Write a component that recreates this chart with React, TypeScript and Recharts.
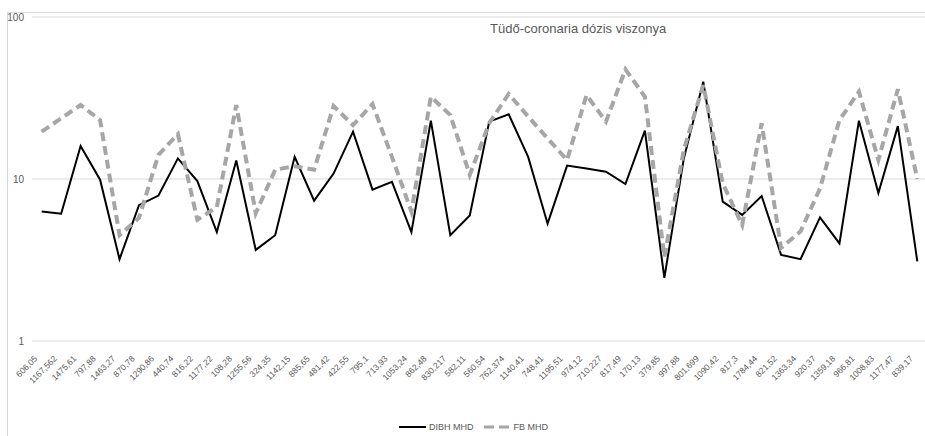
import React from 'react';
import { LineChart, Line, XAxis, YAxis, CartesianGrid } from 'recharts';

const labels = [
  '606,05', '1167,562', '1475,61', '797,88', '1463,27', '870,78', '1290,86', '440,74', '816,22', '1177,22',
  '108,28', '1255,56', '324,35', '1142,15', '885,65', '481,42', '422,55', '795,1', '713,93', '1053,24',
  '862,48', '830,217', '582,11', '560,54', '762,374', '1140,41', '748,41', '1195,51', '974,12', '710,227',
  '817,49', '170,13', '379,85', '997,88', '801,699', '1090,42', '817,3', '1784,44', '821,52', '1363,34',
  '920,37', '1359,18', '966,81', '1008,83', '1177,47', '839,17',
];

const dibhMhd = [
  6.3, 6.1, 16.0, 9.9, 3.2, 6.9, 7.9, 13.4, 9.7, 4.7,
  13.0, 3.65, 4.5, 13.7, 7.35, 10.8, 19.6, 8.6, 9.6, 4.7,
  22.9, 4.5, 5.95, 22.6, 25.1, 13.7, 5.3, 12.1, 11.6, 11.1,
  9.3, 19.9, 2.45, 13.4, 39.9, 7.25, 6.0, 7.85, 3.4, 3.2,
  5.8, 4.0, 22.9, 8.2, 21.2, 3.1,
];

const fbMhd = [
  19.6, 23.7, 28.6, 23.1, 4.5, 5.75, 14.1, 18.9, 5.6, 6.7,
  28.6, 6.15, 11.4, 12.0, 11.4, 28.2, 21.5, 29.0, 13.7, 6.3,
  32.2, 24.8, 10.6, 22.1, 33.5, 24.3, 17.8, 13.1, 33.0, 22.6,
  47.5, 32.2, 3.3, 15.1, 38.0, 9.4, 5.2, 22.1, 3.75, 4.75,
  8.75, 23.1, 34.6, 13.1, 35.8, 10.0,
];

const yTicks = [1, 10, 100];

const chartData = labels.map((name, i) => ({ name, dibh: dibhMhd[i], fb: fbMhd[i] }));

const FONT = '"Liberation Sans", Arial, sans-serif';
const TEXT = '#595959';

const App: React.FC = () => {
  return (
    <div style={{ position: 'fixed', left: 0, top: 0, width: 925, height: 436, overflow: 'hidden', background: '#fff' }}>
      <div style={{ position: 'absolute', left: 7, top: 12, width: 960, height: 460, border: '1px solid #d9d9d9' }} />
      <div style={{ position: 'absolute', left: 490, top: 21, fontFamily: FONT, fontSize: 13, color: TEXT, whiteSpace: 'nowrap' }}>
        Tüdő-coronaria dózis viszonya
      </div>
      <div style={{ position: 'absolute', left: 0, top: 0 }}>
        <LineChart width={940} height={436} data={chartData} margin={{ top: 17, right: 13, bottom: 35, left: 0 }}>
          <CartesianGrid horizontal vertical={false} stroke="#d9d9d9" />
          <XAxis
            dataKey="name"
            scale="point"
            padding={{ left: 9.7, right: 9.7 }}
            interval={0}
            height={60}
            axisLine={false}
            tickLine={false}
            tick={{ fontSize: 8.5, fill: TEXT, fontFamily: FONT, angle: -45, textAnchor: 'end', dx: -8, dy: 6 }}
          />
          <YAxis
            scale="log"
            domain={[1, 100]}
            ticks={yTicks}
            allowDataOverflow
            width={32}
            axisLine={false}
            tickLine={false}
            tick={{ fontSize: 10, fill: TEXT, fontFamily: FONT }}
          />
          <Line type="linear" dataKey="dibh" stroke="#000" strokeWidth={2} dot={false} isAnimationActive={false} />
          <Line type="linear" dataKey="fb" stroke="#a6a6a6" strokeWidth={4} strokeDasharray="9 5" dot={false} isAnimationActive={false} />
        </LineChart>
      </div>
      <div style={{ position: 'absolute', left: 399, top: 421, display: 'flex', alignItems: 'center', fontFamily: FONT, fontSize: 9, color: TEXT, whiteSpace: 'nowrap' }}>
        <svg width={28} height={12} style={{ marginRight: 2 }}>
          <line x1={0} y1={6} x2={27} y2={6} stroke="#000" strokeWidth={2} />
        </svg>
        <span>DIBH MHD</span>
        <svg width={26} height={12} style={{ marginLeft: 10, marginRight: 4 }}>
          <line x1={0} y1={6} x2={25} y2={6} stroke="#a6a6a6" strokeWidth={3} strokeDasharray="10 5" />
        </svg>
        <span>FB MHD</span>
      </div>
    </div>
  );
};

export default App;
